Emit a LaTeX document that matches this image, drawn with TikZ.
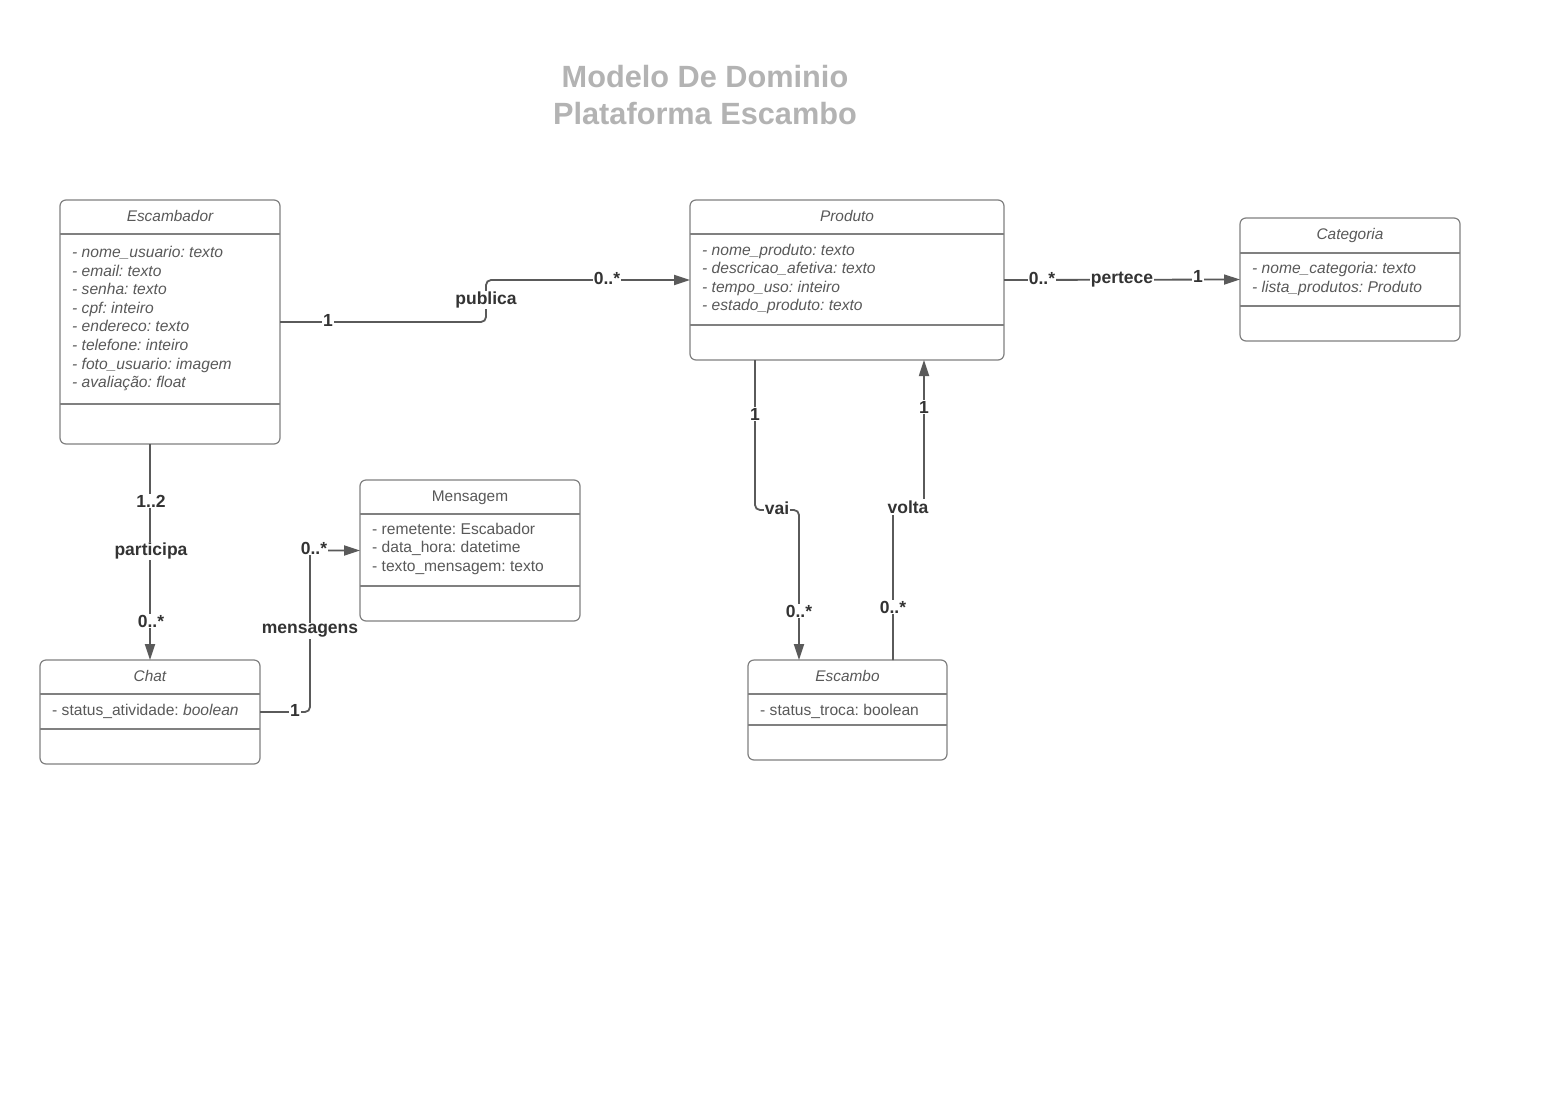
\documentclass[tikz,border=0pt]{standalone}
\usepackage{fontspec}
\setmainfont{Liberation Sans}
\usetikzlibrary{arrows.meta,calc}
\definecolor{boxline}{HTML}{808080}
\definecolor{boxtext}{HTML}{595959}
\definecolor{conncol}{HTML}{5A5A5A}
\definecolor{labtext}{HTML}{333333}
\definecolor{titlecol}{HTML}{B3B3B3}
\frenchspacing
\begin{document}
\begin{tikzpicture}[x=1pt,y=-1pt,
  classbox/.style={draw=boxline, line width=1.2pt, rounded corners=6pt, anchor=north west, inner sep=0pt, outer sep=0pt},
  divider/.style={draw=boxline, line width=1.2pt},
  hdr/.style={text=boxtext, font=\fontsize{15.4}{18}\selectfont\itshape, anchor=base, inner sep=0pt},
  hdrup/.style={hdr, font=\fontsize{15.4}{18}\selectfont},
  attr/.style={text=boxtext, font=\fontsize{15.6}{18}\selectfont\itshape, anchor=base west, inner sep=0pt},
  attrup/.style={attr, font=\fontsize{15.6}{18}\selectfont},
  conn/.style={draw=conncol, line width=1.8pt, rounded corners=5pt},
  arr/.style={-{Triangle[length=16pt,width=10pt]}},
  lab/.style={text=labtext, font=\fontsize{17.5}{20}\selectfont\bfseries, fill=white, inner sep=1.2pt},
  ttl/.style={text=titlecol, font=\fontsize{30.7}{36.5}\selectfont\bfseries, align=center}
]
\useasboundingbox (0,0) rectangle (1561,1101);
\fill[white] (0,0) rectangle (1561,1101);

% Title
\node[ttl] (title) at (705,95) {Modelo De Dominio\\Plataforma Escambo};

% Class boxes
\node[classbox, minimum width=220pt, minimum height=244pt] (esc) at (60,200) {};
\node[classbox, minimum width=314pt, minimum height=160pt] (prod) at (690,200) {};
\node[classbox, minimum width=220pt, minimum height=123pt] (cat) at (1240,218) {};
\node[classbox, minimum width=220pt, minimum height=141pt] (msg) at (360,480) {};
\node[classbox, minimum width=220pt, minimum height=104pt] (chat) at (40,660) {};
\node[classbox, minimum width=199pt, minimum height=100pt] (escb) at (748,660) {};

% Dividers
\draw[divider] ($(esc.north west)+(0,34)$) -- ($(esc.north east)+(0,34)$);
\draw[divider] ($(esc.north west)+(0,204)$) -- ($(esc.north east)+(0,204)$);
\draw[divider] ($(prod.north west)+(0,34)$) -- ($(prod.north east)+(0,34)$);
\draw[divider] ($(prod.north west)+(0,125)$) -- ($(prod.north east)+(0,125)$);
\draw[divider] ($(cat.north west)+(0,35)$) -- ($(cat.north east)+(0,35)$);
\draw[divider] ($(cat.north west)+(0,88)$) -- ($(cat.north east)+(0,88)$);
\draw[divider] ($(msg.north west)+(0,34)$) -- ($(msg.north east)+(0,34)$);
\draw[divider] ($(msg.north west)+(0,106)$) -- ($(msg.north east)+(0,106)$);
\draw[divider] ($(chat.north west)+(0,34)$) -- ($(chat.north east)+(0,34)$);
\draw[divider] ($(chat.north west)+(0,69)$) -- ($(chat.north east)+(0,69)$);
\draw[divider] ($(escb.north west)+(0,34)$) -- ($(escb.north east)+(0,34)$);
\draw[divider] ($(escb.north west)+(0,65)$) -- ($(escb.north east)+(0,65)$);

% Headers
\node[hdr] (escH) at (170,221) {Escambador};
\node[hdr] (prodH) at (847,221) {Produto};
\node[hdr] (catH) at (1350,239) {Categoria};
\node[hdrup] (msgH) at (470,501) {Mensagem};
\node[hdr] (chatH) at (150,681) {Chat};
\node[hdr] (escbH) at (847.5,681) {Escambo};

% Attributes
\foreach \t [count=\i from 0] in {nome\_usuario: texto, email: texto, senha: texto, cpf: inteiro, endereco: texto, telefone: inteiro, foto\_usuario: imagem, avaliação: float}
  \node[attr] (escA\i) at (72,257.5+18.6*\i) {- \t};
\foreach \t [count=\i from 0] in {nome\_produto: texto, descricao\_afetiva: texto, tempo\_uso: inteiro, estado\_produto: texto}
  \node[attr] (prodA\i) at (702,255+18.55*\i) {- \t};
\foreach \t [count=\i from 0] in {nome\_categoria: texto, lista\_produtos: Produto}
  \node[attr] (catA\i) at (1252,273.5+18.6*\i) {- \t};
\foreach \t [count=\i from 0] in {remetente: Escabador, data\_hora: datetime, texto\_mensagem: texto}
  \node[attrup] (msgA\i) at (372,534+18.7*\i) {- \t};
\node[attrup] (chatA0) at (52,715) {- status\_atividade: \textit{boolean}};
\node[attrup] (escbA0) at (760,715) {- status\_troca: boolean};

% Connector anchor points
\coordinate (pubmid) at (486,300);
\coordinate (vaiTop) at ($(prod.south west)+(65,0)$);
\coordinate (vaiBot) at ($(escb.north west)+(51,0)$);
\coordinate (vaiMid) at (0,510);
\coordinate (voltaTop) at ($(prod.south west)+(234,0)$);
\coordinate (voltaBot) at ($(escb.north west)+(145,0)$);
\coordinate (voltaMid) at (0,508);
\coordinate (msgMid) at ($(chat.east)+(50,0)$);

% Connectors
\draw[conn, arr] (esc.east) -| (pubmid |- prod.west) -- (prod.west);
\draw[conn, arr] (prod.east) -- (cat.west);
\draw[conn, arr] (esc.south -| chat.north) -- (chat.north);
\draw[conn, arr] (chat.east) -| (msgMid |- msg.west) -- (msg.west);
\draw[conn, arr] (vaiTop) |- (vaiMid -| vaiBot) -- (vaiBot);
\draw[conn, arr] (voltaBot) |- (voltaMid -| voltaTop) -- (voltaTop);

% Labels
\node[lab] (l1) at (328,320) {1};
\node[lab] (l2) at (486,300) {publica};
\node[lab] (l3) at (607,278) {0..*};
\node[lab] (l4) at (1042,278) {0..*};
\node[lab] (l5) at (1122,279.5) {pertece};
\node[lab] (l6) at (1198,276) {1};
\node[lab] (l7) at (151,501) {1..2};
\node[lab] (l8) at (151,551) {participa};
\node[lab] (l9) at (151,621) {0..*};
\node[lab] (l10) at (295,710) {1};
\node[lab] (l11) at (310,631) {mensagens};
\node[lab] (l12) at (314,548) {0..*};
\node[lab] (l13) at (755,414) {1};
\node[lab] (l14) at (777,508) {vai};
\node[lab] (l15) at (799,611) {0..*};
\node[lab] (l16) at (924,407) {1};
\node[lab] (l17) at (908,507) {volta};
\node[lab] (l18) at (893,607) {0..*};
\end{tikzpicture}
\end{document}
